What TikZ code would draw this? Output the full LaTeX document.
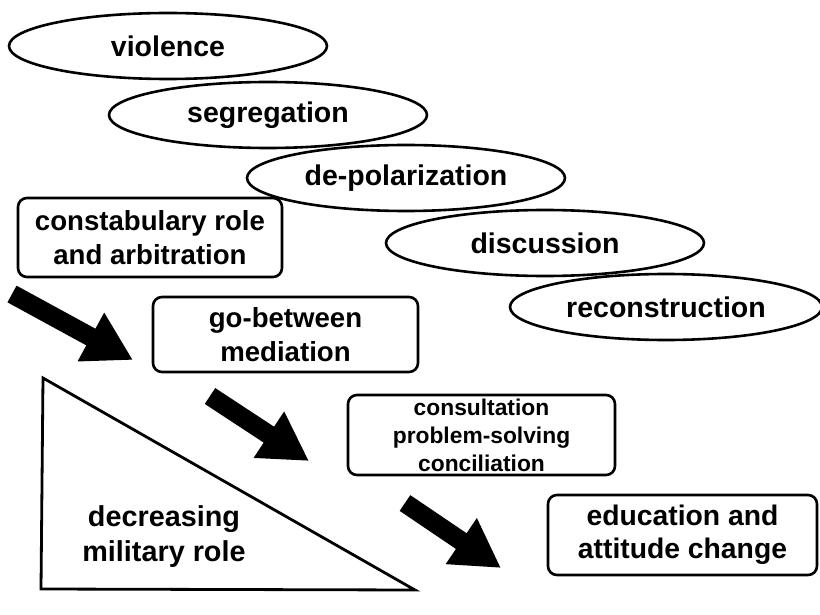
\documentclass[tikz,border=0pt]{standalone}
\usepackage{fontspec}
\setmainfont{Liberation Sans}
\usetikzlibrary{shapes.geometric,arrows.meta}
\begin{document}
\begin{tikzpicture}[x=1pt,y=-1pt,
  stage/.style={ellipse,draw,line width=2.6pt,fill=white,inner sep=0pt,
    minimum width=318pt,minimum height=66pt,font=\fontsize{28.5}{33}\selectfont\bfseries},
  rolebox/.style={rectangle,rounded corners=9pt,draw,line width=2.6pt,fill=white,
    align=center,inner sep=0pt,font=\fontsize{27.6}{34}\selectfont\bfseries},
  smallbox/.style={rolebox,font=\fontsize{22.8}{28}\selectfont\bfseries},
  bigarrow/.style={line width=19pt,-{Triangle[length=48pt,width=52pt]}},
  tri/.style={line width=2.8pt,line join=miter}]
\useasboundingbox (0,0) rectangle (820,615);
\fill[white] (0,0) rectangle (820,615);
% ellipses
\node[stage] (violence) at (168,46) {violence};
\node[stage] (segregation) at (268,115) {segregation};
\node[stage] (depol) at (406,178) {de-polarization};
\node[stage] (discussion) at (545,243) {discussion};
\node[stage,minimum width=312pt] (recon) at (666,307) {reconstruction};
% boxes
\node[rolebox,minimum width=264pt,minimum height=79pt] (constab) at (150,237.5) {constabulary role\\and arbitration};
\node[rolebox,minimum width=265pt,minimum height=75pt] (gobetween) at (285.5,334.5) {go-between\\mediation};
\node[smallbox,minimum width=267pt,minimum height=80pt] (consult) at (481.5,435) {consultation\\problem-solving\\conciliation};
\node[rolebox,minimum width=269pt,minimum height=80pt,font=\fontsize{28.3}{33}\selectfont\bfseries] (educ) at (682.5,535) {education and\\attitude change};
% arrows
\coordinate (a1s) at (12,294);
\coordinate (a1e) at (133,360);
\coordinate (a2s) at (210,396);
\coordinate (a2e) at (309,461);
\coordinate (a3s) at (405,503);
\coordinate (a3e) at (501,568);
\draw[bigarrow] (a1s) -- (a1e);
\draw[bigarrow] (a2s) -- (a2e);
\draw[bigarrow] (a3s) -- (a3e);
% triangle
\coordinate (t1) at (43,378);
\coordinate (t2) at (41,589);
\coordinate (t3) at (415,590);
\draw[tri] (t1) -- (t2) -- (t3) -- cycle;
\node[align=center,font=\fontsize{28.8}{35}\selectfont\bfseries] (decr) at (164,537) {decreasing\\military role};
\end{tikzpicture}
\end{document}
